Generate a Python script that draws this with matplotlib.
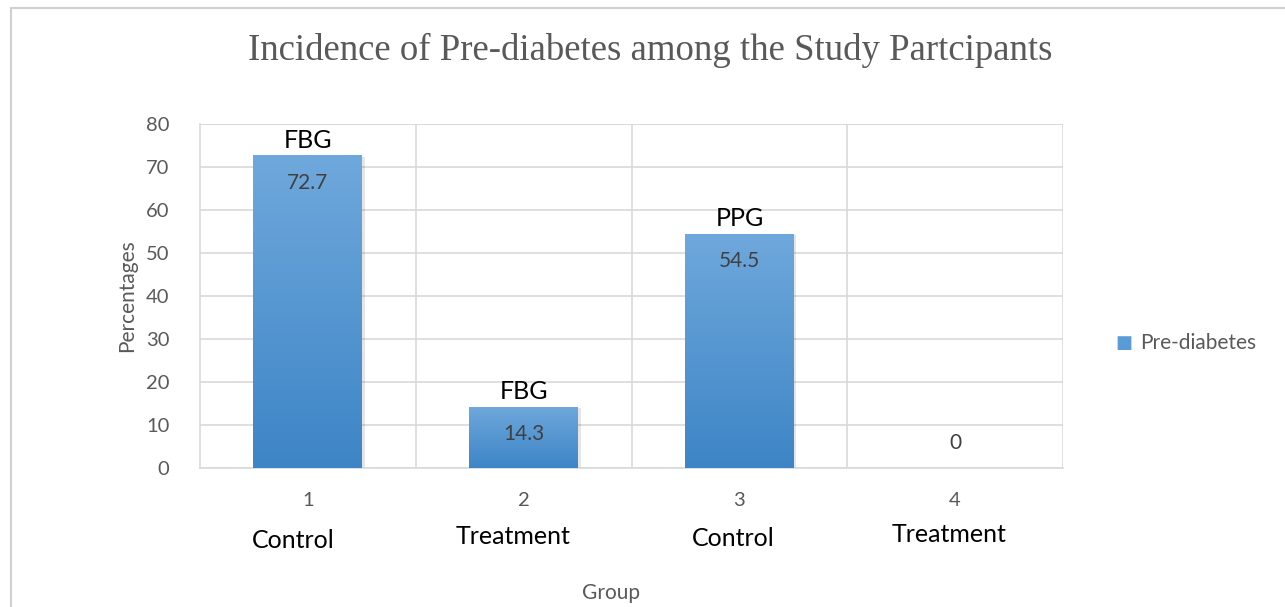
import matplotlib.pyplot as plt
import numpy as np
from matplotlib.lines import Line2D
from matplotlib.transforms import blended_transform_factory
from matplotlib.colors import LinearSegmentedColormap

groups = [1, 2, 3, 4]
group_names = ["Control", "Treatment", "Control", "Treatment"]
test_names = ["FBG", "FBG", "PPG", ""]
values = [72.7, 14.3, 54.5, 0]
series_name = "Pre-diabetes"

W, H = 1285, 607
fig = plt.figure(figsize=(W / 100, H / 100), dpi=100)
ax = fig.add_axes([200 / W, 1 - 468 / H, (1063 - 200) / W, (468 - 124) / H])

grid_c = "#d9d9d9"
text_c = "#595959"
sans = ["Lato", "DejaVu Sans"]

bars = ax.bar(groups, values, width=0.505, color="#5b9bd5", zorder=3,
              label=series_name)

# vertical gradient inside each bar (light top, darker bottom)
grad = np.linspace(0, 1, 256).reshape(-1, 1)
cmap = LinearSegmentedColormap.from_list("g", ["#3d85c6", "#6fa8dc"])
for b in bars:
    if b.get_height() <= 0:
        continue
    x0, w, h = b.get_x(), b.get_width(), b.get_height()
    # soft shadow on the right
    ax.bar(x0 + w / 2 + 0.012, h, width=w, bottom=-0.4, color="#000000",
           alpha=0.10, zorder=2)
    im = ax.imshow(grad, extent=[x0, x0 + w, 0, h], origin="lower",
                   cmap=cmap, aspect="auto", zorder=4)
    im.set_clip_path(b)

ax.set_xlim(0.5, 4.5)
ax.set_ylim(0, 80)
ax.set_yticks(range(0, 81, 10))
ax.set_xticks(groups)
ax.set_xticks([1.5, 2.5, 3.5], minor=True)
ax.grid(axis="y", color=grid_c, linewidth=1.2, zorder=0)
ax.grid(axis="x", which="minor", color=grid_c, linewidth=1.2, zorder=0)
ax.grid(axis="x", which="major", visible=False)
for s in ["top", "right"]:
    ax.spines[s].set_visible(False)
for s in ["left", "bottom"]:
    ax.spines[s].set_color(grid_c)
    ax.spines[s].set_linewidth(1.2)
ax.axvline(4.5, color=grid_c, linewidth=1.2, zorder=0)
ax.axhline(80, color=grid_c, linewidth=1.2, zorder=0)
ax.tick_params(axis="both", which="both", length=0, colors=text_c, labelsize=14.5)
ax.tick_params(axis="y", pad=22)
ax.tick_params(axis="x", pad=17)
for lab in ax.get_xticklabels() + ax.get_yticklabels():
    lab.set_family(sans)

# data labels
for g, v, t in zip(groups, values, test_names):
    if v > 0:
        ax.annotate(f"{v}", (g, v), xytext=(0, -20), textcoords="offset points",
                    ha="center", va="center", fontsize=15, color="#404040",
                    family=sans, zorder=6)
        ax.annotate(t, (g, v), xytext=(0, 11), textcoords="offset points",
                    ha="center", va="center", fontsize=18, color="black",
                    family=sans, zorder=6)
    else:
        ax.annotate(f"{v}", (g, v), xytext=(0, 18), textcoords="offset points",
                    ha="center", va="center", fontsize=15, color="#404040",
                    family=sans, zorder=6)

# group names under tick labels
trans = blended_transform_factory(ax.transData, fig.transFigure)
name_y = [541, 537, 538, 535]
name_dx = [-0.07, -0.05, -0.03, -0.03]
for g, n, yy, dx in zip(groups, group_names, name_y, name_dx):
    ax.text(g + dx, 1 - yy / H, n, transform=trans, ha="center", va="center",
            fontsize=18, color="black", family=sans)

ax.set_ylabel("Percentages", fontsize=15, color=text_c, family=sans, labelpad=6)
fig.text(611 / W, 1 - 593 / H, "Group", ha="center", va="center",
         fontsize=15, color=text_c, family=sans)

fig.text(650 / W, 1 - 50 / H, "Incidence of Pre-diabetes among the Study Partcipants",
         ha="center", va="center", fontsize=26.5, color=text_c,
         family="Liberation Serif")

# legend
fig.text(1124 / W, 1 - 343 / H, "\u25A0", ha="center", va="center",
         fontsize=13, color="#5b9bd5", family="DejaVu Sans")
fig.text(1140 / W, 1 - 343 / H, series_name, ha="left", va="center",
         fontsize=15, color=text_c, family=sans)

# outer chart border
fig.add_artist(Line2D([11 / W, 11 / W], [0, 1 - 8 / H], transform=fig.transFigure,
                      color="#d0d0d0", linewidth=1.5))
fig.add_artist(Line2D([11 / W, 1], [1 - 8 / H, 1 - 8 / H], transform=fig.transFigure,
                      color="#d0d0d0", linewidth=1.5))

fig.savefig("out.png", dpi=100)
